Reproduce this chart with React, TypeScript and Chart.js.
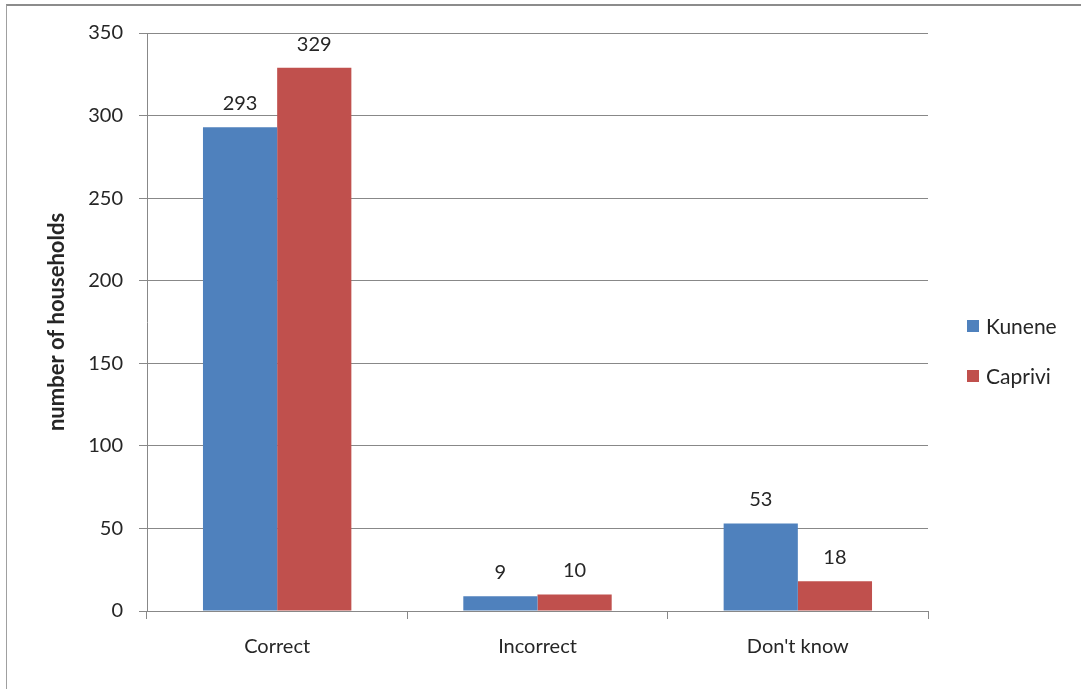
import React, { useEffect, useRef } from "react";
import { Chart, registerables } from "chart.js";

Chart.register(...registerables);

const categories = ["Correct", "Incorrect", "Don't know"];
const kunene = [293, 9, 53];
const caprivi = [329, 10, 18];
const seriesNames = ["Kunene", "Caprivi"];
const seriesColors = ["#4F81BD", "#C0504D"];
const yTicks = [0, 50, 100, 150, 200, 250, 300, 350];

const FONT = "Lato, 'Open Sans', sans-serif";
const TEXT = "#262626";
const FS = 20;

const labelsPlugin = {
  id: "valueLabels",
  afterDatasetsDraw(chart: any) {
    const ctx = chart.ctx;
    ctx.save();
    ctx.font = `${FS}px ${FONT}`;
    ctx.fillStyle = TEXT;
    ctx.textAlign = "center";
    ctx.textBaseline = "alphabetic";
    chart.data.datasets.forEach((ds: any, di: number) => {
      const meta = chart.getDatasetMeta(di);
      meta.data.forEach((el: any, i: number) => {
        ctx.fillText(String(ds.data[i]), el.x, el.y - 17);
      });
    });
    ctx.restore();
  },
};

const legendPlugin = {
  id: "customLegend",
  afterDraw(chart: any) {
    const ctx = chart.ctx;
    ctx.save();
    ctx.font = `${FS + 1}px ${FONT}`;
    ctx.textBaseline = "middle";
    ctx.textAlign = "left";
    chart.data.datasets.forEach((ds: any, i: number) => {
      const y = 326 + i * 50;
      ctx.fillStyle = ds.backgroundColor;
      ctx.fillRect(967, y - 6, 12, 12);
      ctx.fillStyle = TEXT;
      ctx.fillText(ds.label, 986, y + 1);
    });
    ctx.restore();
  },
};

export default function App() {
  const ref = useRef<HTMLCanvasElement>(null);
  useEffect(() => {
    document.body.style.margin = "0";
    const chart = new Chart(ref.current!, {
      type: "bar",
      data: {
        labels: categories,
        datasets: [
          { label: seriesNames[0], data: kunene, backgroundColor: seriesColors[0] },
          { label: seriesNames[1], data: caprivi, backgroundColor: seriesColors[1] },
        ],
      },
      options: {
        animation: false,
        responsive: false,
        layout: { padding: { left: 36, top: 33, right: 153, bottom: 10 } },
        datasets: { bar: { categoryPercentage: 0.57, barPercentage: 1 } },
        plugins: { legend: { display: false }, tooltip: { enabled: false } },
        scales: {
          x: {
            grid: {
              offset: true,
              drawOnChartArea: false,
              drawTicks: true,
              tickLength: 8,
              color: "#888888",
            },
            border: { color: "#888888" },
            ticks: { color: TEXT, font: { family: FONT, size: FS }, padding: 16 },
            afterFit: (s: any) => {
              s.height = 689 - 611 - 10;
            },
          },
          y: {
            min: 0,
            max: 350,
            afterBuildTicks: (s: any) => {
              s.ticks = yTicks.map((v) => ({ value: v }));
            },
            grid: { color: "#888888", tickLength: 8 },
            border: { color: "#888888" },
            ticks: { color: TEXT, font: { family: FONT, size: FS }, padding: 16 },
            title: {
              display: true,
              text: "number of households",
              color: TEXT,
              font: { family: FONT, size: 22, weight: "bold" },
              padding: { top: 8, bottom: 0 },
            },
            afterFit: (s: any) => {
              s.width = 147 - 36;
            },
          },
        },
      },
      plugins: [labelsPlugin, legendPlugin],
    });
    return () => chart.destroy();
  }, []);
  return (
    <div style={{ position: "relative", width: 1081, height: 689 }}>
      <canvas ref={ref} width={1081} height={689} style={{ display: "block" }} />
      <div
        style={{
          position: "absolute",
          left: 6,
          top: 4,
          right: 0,
          bottom: 0,
          borderTop: "2px solid #8c8c8c",
          borderLeft: "1px solid #a0a0a0",
          pointerEvents: "none",
        }}
      />
    </div>
  );
}
